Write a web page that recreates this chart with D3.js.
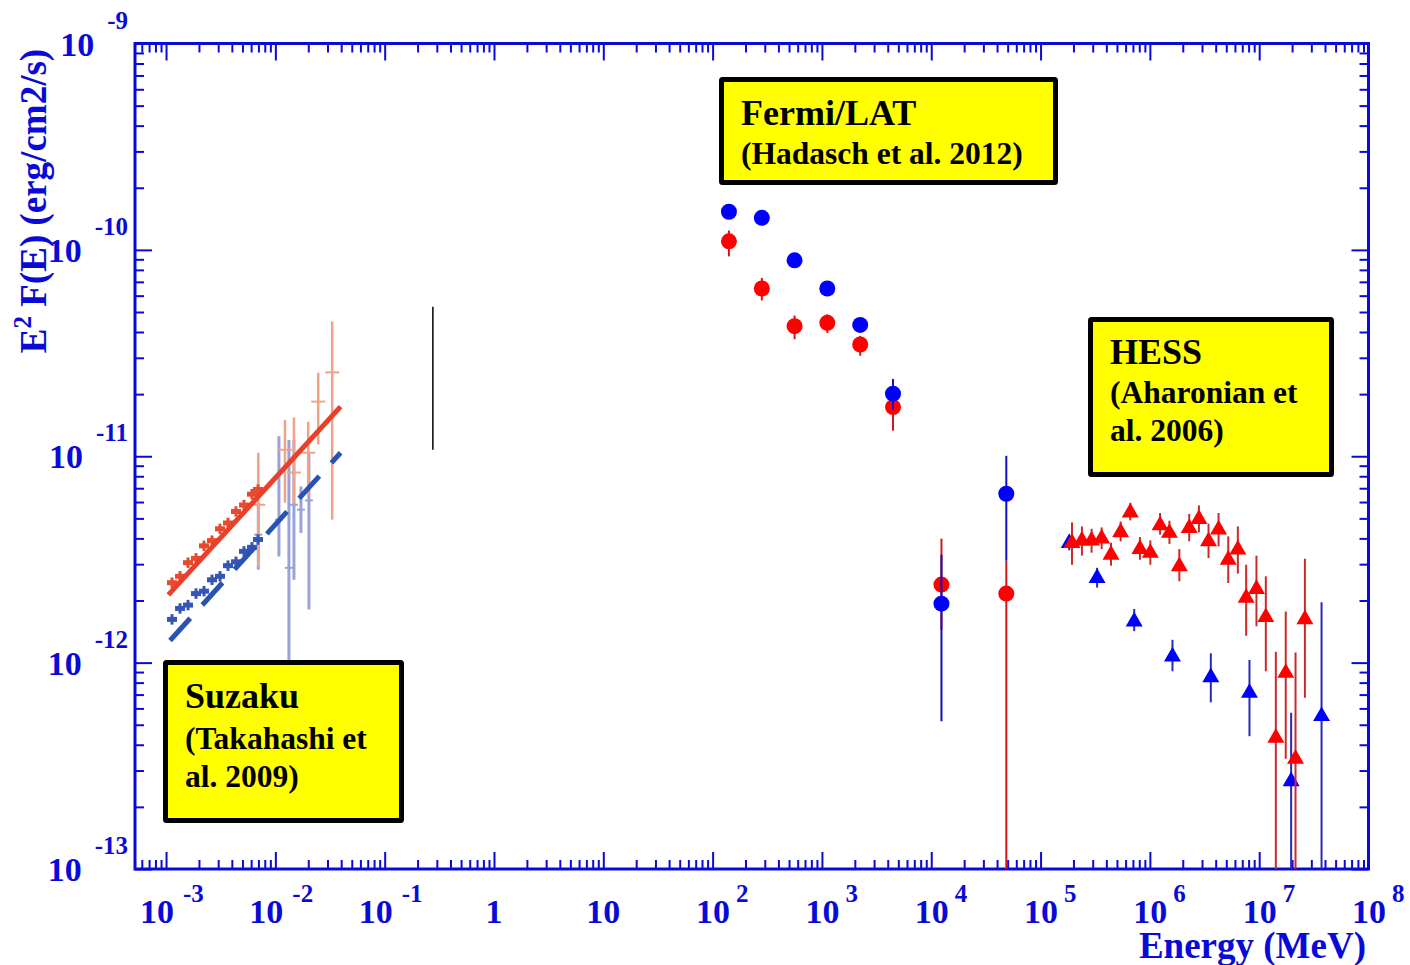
<!DOCTYPE html>
<html lang="en">
<head>
<meta charset="utf-8">
<title>LS 5039 SED</title>
<script src="https://cdn.jsdelivr.net/npm/d3@7"></script>
<style>
body { margin: 0; background: #ffffff; }
svg { display: block; }
text { font-family: "Liberation Serif", "Times New Roman", serif; font-weight: bold; }
</style>
</head>
<body>
<script>
var width = 1410, height = 965;
var axisColor = "#0a0ad8";

// axis decades (tick labels)
var xDecades = [-3, -2, -1, 0, 1, 2, 3, 4, 5, 6, 7, 8];
var yDecades = [-9, -10, -11, -12, -13];

// Fermi/LAT (Hadasch et al. 2012), energies in MeV
var fermiE      = [141, 282, 562, 1120, 2240, 4470, 12400, 48600];
var fermiBlue   = [1.53e-10, 1.43e-10, 8.9e-11, 6.5e-11, 4.33e-11, 2.01e-11, 1.93e-12, 6.58e-12];
var fermiBlueHi = [1.60e-10, 1.50e-10, 9.3e-11, 6.8e-11, 4.5e-11, 2.37e-11, 3.33e-12, 1.005e-11];
var fermiBlueLo = [1.46e-10, 1.36e-10, 8.5e-11, 6.2e-11, 4.15e-11, 1.68e-11, 5.20e-13, 3.12e-12];
var fermiRed    = [1.10e-10, 6.5e-11, 4.27e-11, 4.43e-11, 3.48e-11, 1.73e-11, 2.39e-12, 2.16e-12];
var fermiRedHi  = [1.243e-10, 7.32e-11, 4.81e-11, 4.87e-11, 3.83e-11, 1.90e-11, 3.99e-12, 3.12e-12];
var fermiRedLo  = [9.30e-11, 5.69e-11, 3.69e-11, 3.96e-11, 3.07e-11, 1.33e-11, 1.44e-12, 1e-14];

// HESS (Aharonian et al. 2006)
var hessRedE  = [1.94e5, 2.39e5, 2.93e5, 3.62e5, 4.41e5, 5.40e5, 6.62e5, 8.11e5, 1.01e6, 1.24e6, 1.51e6, 1.86e6, 2.29e6,
                 2.81e6, 3.44e6, 4.25e6, 5.21e6, 6.38e6, 7.60e6, 9.44e6, 1.15e7, 1.42e7, 1.75e7, 2.15e7, 2.62e7];
var hessRed   = [3.80e-12, 3.90e-12, 3.90e-12, 3.99e-12, 3.33e-12, 4.28e-12, 5.34e-12, 3.55e-12, 3.40e-12, 4.62e-12, 4.25e-12, 2.93e-12, 4.49e-12,
                 4.96e-12, 3.87e-12, 4.41e-12, 3.15e-12, 3.53e-12, 2.06e-12, 2.27e-12, 1.66e-12, 4.32e-13, 8.91e-13, 3.42e-13, 1.62e-12];
var hessRedHi = [4.78e-12, 4.57e-12, 4.45e-12, 4.52e-12, 3.81e-12, 4.83e-12, 5.95e-12, 4.06e-12, 3.91e-12, 5.31e-12, 4.87e-12, 3.55e-12, 5.25e-12,
                 5.78e-12, 4.71e-12, 5.31e-12, 4.09e-12, 4.57e-12, 2.98e-12, 3.30e-12, 2.62e-12, 1.13e-12, 1.77e-12, 1.12e-12, 3.19e-12];
var hessRedLo = [2.98e-12, 3.30e-12, 3.41e-12, 3.55e-12, 2.95e-12, 3.87e-12, 4.89e-12, 3.15e-12, 2.98e-12, 4.17e-12, 3.76e-12, 2.48e-12, 3.87e-12,
                 4.28e-12, 3.21e-12, 3.66e-12, 2.43e-12, 2.70e-12, 1.35e-12, 1.50e-12, 9.08e-13, 1e-14, 3.42e-13, 1e-14, 6.75e-13];

var hessBlueE  = [1.83e5, 3.29e5, 7.19e5, 1.61e6, 3.61e6, 8.15e6, 1.96e7, 3.72e7];
var hessBlue   = [3.80e-12, 2.57e-12, 1.58e-12, 1.07e-12, 8.49e-13, 7.13e-13, 2.66e-13, 5.50e-13];
var hessBlueHi = [4.1e-12, 2.88e-12, 1.82e-12, 1.29e-12, 1.11e-12, 1.03e-12, 5.71e-13, 1.96e-12];
var hessBlueLo = [3.5e-12, 2.31e-12, 1.42e-12, 9.08e-13, 6.42e-13, 4.40e-13, 1e-14, 1e-14];

// Suzaku (Takahashi et al. 2009)
var suzRedModelE  = [1.05e-3, 3.95e-2];
var suzRedModel   = [2.13e-12, 1.74e-11];
var suzBlueModelE = [1.088e-3, 3.95e-2];
var suzBlueModel  = [1.28e-12, 1.04e-11];

var suzLowE    = [1.134e-3, 1.343e-3, 1.589e-3, 1.880e-3, 2.225e-3, 2.633e-3, 3.116e-3, 3.687e-3, 4.363e-3, 5.164e-3, 6.110e-3, 6.934e-3];
var suzLowRed  = [2.44e-12, 2.62e-12, 3.05e-12, 3.20e-12, 3.68e-12, 3.90e-12, 4.45e-12, 4.75e-12, 5.40e-12, 5.80e-12, 6.55e-12, 6.90e-12];
var suzLowBlue = [1.62e-12, 1.83e-12, 1.90e-12, 2.16e-12, 2.22e-12, 2.52e-12, 2.62e-12, 2.95e-12, 3.08e-12, 3.46e-12, 3.62e-12, 3.95e-12];

var suzHiRedE  = [6.98e-3, 1.224e-2, 1.479e-2, 1.998e-2, 2.467e-2, 3.311e-2];
var suzHiRed   = [5.82e-12, 1.075e-11, 8.34e-12, 1.04e-11, 1.84e-11, 2.55e-11];
var suzHiRedHi = [1.04e-11, 1.50e-11, 1.54e-11, 1.47e-11, 2.54e-11, 4.50e-11];
var suzHiRedLo = [2.92e-12, 5.95e-12, 5.95e-12, 6.39e-12, 1.14e-11, 4.93e-12];

var suzHiBlueE  = [6.98e-3, 1.078e-2, 1.331e-2, 1.479e-2, 1.714e-2, 2.028e-2];
var suzHiBlue   = [4.17e-12, 4.93e-12, 2.88e-12, 5.82e-12, 5.51e-12, 6.11e-12];
var suzHiBlueHi = [5.95e-12, 1.25e-11, 1.20e-11, 1.20e-11, 7.14e-12, 1.04e-11];
var suzHiBlueLo = [2.82e-12, 3.27e-12, 1.03e-12, 2.52e-12, 4.25e-12, 1.81e-12];

// stray black line left in the figure
var strayE = [0.276], strayHi = [5.30e-11], strayLo = [1.075e-11];

// label boxes
var boxes = [
    {x: 721.5, y: 79.5, w: 334, h: 103, lines: ["Fermi/LAT", "(Hadasch et al. 2012)"], base: [125, 164]},
    {x: 1090.5, y: 319.5, w: 241, h: 155, lines: ["HESS", "(Aharonian et", "al. 2006)"], base: [364, 403, 441]},
    {x: 165.5, y: 662.5, w: 236, h: 158, lines: ["Suzaku", "(Takahashi et", "al. 2009)"], base: [708, 749, 787]}
];

var plotL = 135, plotR = 1368.5, plotT = 43.5, plotB = 869;

var svg = d3.select("body").append("svg").attr("width", width).attr("height", height);

var x = d3.scaleLog().domain([5.2e-4, 1e8]).range([plotL, plotR]);
var y = d3.scaleLog().domain([1e-13, 1e-9]).range([plotB, plotT]);

svg.append("defs").append("clipPath").attr("id", "plot")
    .append("rect").attr("x", plotL).attr("y", plotT).attr("width", plotR - plotL).attr("height", plotB - plotT);

// ticks
var xMajor = xDecades.map(function(d) { return Math.pow(10, d); });
var yMajor = yDecades.map(function(d) { return Math.pow(10, d); });
var xMinor = [], yMinor = [];
for (var d = -4; d <= 7; d++) for (var k = 2; k <= 9; k++) {
    var v = k * Math.pow(10, d);
    if (v > 5.2e-4 && v < 1e8) xMinor.push(v);
}
for (var d = -13; d <= -10; d++) for (var k = 2; k <= 9; k++) yMinor.push(k * Math.pow(10, d));

function ticks(axisFn, scale, values, size, tr) {
    svg.append("g").attr("transform", tr)
        .call(axisFn(scale).tickValues(values).tickSize(size).tickSizeOuter(0).tickFormat(""))
        .call(function(g) { g.select(".domain").remove(); })
        .call(function(g) { g.selectAll("line").attr("stroke", axisColor).attr("stroke-width", 2); });
}
ticks(d3.axisBottom, x, xMajor, -17, "translate(0," + plotB + ")");
ticks(d3.axisBottom, x, xMinor, -9, "translate(0," + plotB + ")");
ticks(d3.axisTop, x, xMajor, -17, "translate(0," + plotT + ")");
ticks(d3.axisTop, x, xMinor, -9, "translate(0," + plotT + ")");
ticks(d3.axisLeft, y, yMajor, -17, "translate(" + plotL + ",0)");
ticks(d3.axisLeft, y, yMinor, -9, "translate(" + plotL + ",0)");
ticks(d3.axisRight, y, yMajor, -17, "translate(" + plotR + ",0)");
ticks(d3.axisRight, y, yMinor, -9, "translate(" + plotR + ",0)");

svg.append("rect").attr("x", plotL).attr("y", plotT).attr("width", plotR - plotL).attr("height", plotB - plotT)
    .attr("fill", "none").attr("stroke", axisColor).attr("stroke-width", 3);

// x tick labels
xDecades.forEach(function(d) {
    var t = svg.append("text").attr("fill", axisColor).attr("font-size", 34).attr("y", 923);
    if (d === 0 || d === 1) {
        t.attr("text-anchor", "middle").attr("x", x(Math.pow(10, d))).text(d === 0 ? "1" : "10");
    } else {
        t.attr("x", x(Math.pow(10, d)) - (d < 0 ? 26 : 16.5));
        t.append("tspan").text("10");
        t.append("tspan").attr("dx", d < 0 ? 9 : 6).attr("dy", -21).attr("font-size", 25).text(d);
    }
});

// y tick labels
yDecades.forEach(function(d) {
    var t = svg.append("text").attr("fill", axisColor).attr("font-size", 34)
        .attr("text-anchor", "end").attr("x", 128).attr("y", y(Math.pow(10, d)) + 12);
    t.append("tspan").text("10");
    t.append("tspan").attr("dx", 13).attr("dy", -27).attr("font-size", 25).text(d);
});

// axis titles
svg.append("text").attr("fill", axisColor).attr("font-size", 37).attr("text-anchor", "end")
    .attr("x", 1366).attr("y", 958).text("Energy (MeV)");
var yt = svg.append("text").attr("fill", axisColor).attr("font-size", 37).attr("text-anchor", "middle")
    .attr("transform", "translate(46,201) rotate(-90)");
yt.append("tspan").text("E");
yt.append("tspan").attr("dy", -15).attr("font-size", 25).text("2");
yt.append("tspan").attr("dy", 15).text(" F(E) (erg/cm2/s)");

var plot = svg.append("g").attr("clip-path", "url(#plot)");

function bars(E, hi, lo, color, w) {
    plot.append("g").selectAll("line").data(E).join("line")
        .attr("x1", function(e) { return x(e); }).attr("x2", function(e) { return x(e); })
        .attr("y1", function(e, i) { return y(hi[i]); }).attr("y2", function(e, i) { return y(lo[i]); })
        .attr("stroke", color).attr("stroke-width", w);
}
function caps(E, v, color, w, half) {
    plot.append("g").selectAll("line").data(E).join("line")
        .attr("x1", function(e) { return x(e) - half; }).attr("x2", function(e) { return x(e) + half; })
        .attr("y1", function(e, i) { return y(v[i]); }).attr("y2", function(e, i) { return y(v[i]); })
        .attr("stroke", color).attr("stroke-width", w);
}
function circles(E, v, color) {
    plot.append("g").selectAll("circle").data(E).join("circle")
        .attr("cx", function(e) { return x(e); }).attr("cy", function(e, i) { return y(v[i]); })
        .attr("r", 8).attr("fill", color);
}
var tri = d3.symbol(d3.symbolTriangle, 125);
function triangles(E, v, color) {
    plot.append("g").selectAll("path").data(E).join("path")
        .attr("d", tri)
        .attr("transform", function(e, i) { return "translate(" + x(e) + "," + y(v[i]) + ")"; })
        .attr("fill", color);
}

// Suzaku
var line = d3.line().x(function(d) { return x(d[0]); }).y(function(d) { return y(d[1]); });
bars(suzHiBlueE, suzHiBlueHi, suzHiBlueLo, "#9aa2d6", 3);
caps(suzHiBlueE, suzHiBlue, "#9aa2d6", 2, 4);
bars(suzHiRedE, suzHiRedHi, suzHiRedLo, "#f2a385", 2.5);
caps(suzHiRedE, suzHiRed, "#f2a385", 2, 7);
bars(suzLowE, suzLowBlue.map(function(v) { return v * 1.06; }), suzLowBlue.map(function(v) { return v / 1.06; }), "#3556b4", 3);
caps(suzLowE, suzLowBlue, "#3556b4", 5, 5);
bars(suzLowE, suzLowRed.map(function(v) { return v * 1.06; }), suzLowRed.map(function(v) { return v / 1.06; }), "#e84a2e", 3);
caps(suzLowE, suzLowRed, "#e84a2e", 5, 5);
plot.append("path").datum(d3.zip(suzBlueModelE, suzBlueModel)).attr("d", line)
    .attr("fill", "none").attr("stroke", "#2a52b0").attr("stroke-width", 5).attr("stroke-dasharray", "30,18");
plot.append("path").datum(d3.zip(suzRedModelE, suzRedModel)).attr("d", line)
    .attr("fill", "none").attr("stroke", "#e8402a").attr("stroke-width", 5);

bars(strayE, strayHi, strayLo, "#000000", 1.5);

// Fermi/LAT
bars(fermiE, fermiRedHi, fermiRedLo, "#d01818", 2);
circles(fermiE, fermiRed, "#ff0000");
bars(fermiE, fermiBlueHi, fermiBlueLo, "#1010c0", 2);
circles(fermiE, fermiBlue, "#0000ff");

// HESS
bars(hessBlueE, hessBlueHi, hessBlueLo, "#2a2ab8", 2);
triangles(hessBlueE, hessBlue, "#0000ff");
bars(hessRedE, hessRedHi, hessRedLo, "#cc2a2a", 2);
triangles(hessRedE, hessRed, "#ff0000");

// label boxes
boxes.forEach(function(b) {
    svg.append("rect").attr("x", b.x).attr("y", b.y).attr("width", b.w).attr("height", b.h)
        .attr("fill", "#ffff00").attr("stroke", "#000000").attr("stroke-width", 5).attr("rx", 1);
    b.lines.forEach(function(s, i) {
        svg.append("text").attr("x", b.x + 19.5).attr("y", b.base[i])
            .attr("font-size", i === 0 ? 36 : 31.5).attr("fill", "#000000").text(s);
    });
});
</script>
</body>
</html>
